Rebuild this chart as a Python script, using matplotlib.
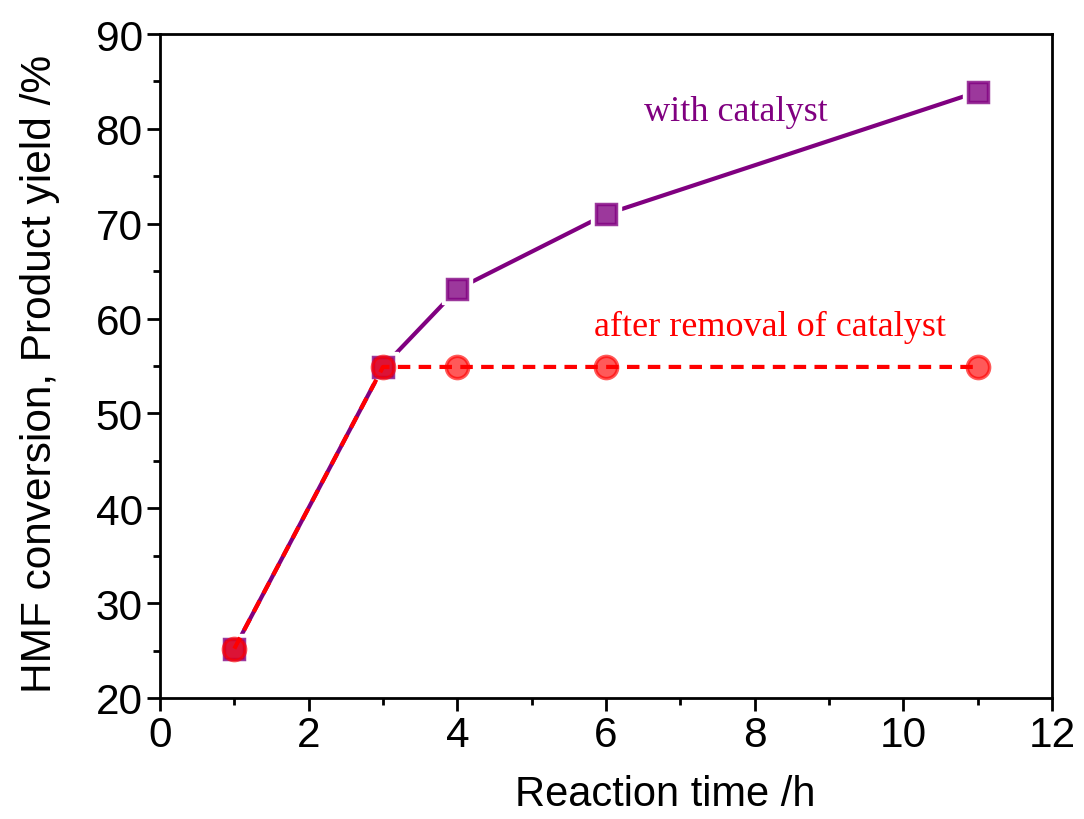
import numpy as np
import matplotlib
matplotlib.use('Agg')
from matplotlib import pyplot as plt
from matplotlib.ticker import MultipleLocator

# data
time_cat = [1, 3, 4, 6, 11]
yield_cat = [25.2, 54.9, 63.1, 71.0, 83.9]
time_rem = [1, 3, 4, 6, 11]
yield_rem = [25.2, 54.9, 54.9, 54.9, 54.9]

purple = '#800080'
red = '#ff0000'

plt.rcParams['font.family'] = ['Liberation Sans', 'DejaVu Sans']

fig = plt.figure(figsize=(10.84, 8.2), dpi=100)
ax = fig.add_axes([0.1476, 0.1476, 0.8229, 0.8097])

# with catalyst
ax.plot(time_cat, yield_cat, '-', color=purple, lw=3, zorder=2)
ax.plot(time_cat, yield_cat, 's', ms=21, mfc='white', mec='white', zorder=3)
ax.plot(time_cat, yield_cat, 's', ms=15, mfc=purple, mec=purple, mew=2.5,
        alpha=0.78, zorder=4)

# after removal of catalyst
ax.plot(time_rem, yield_rem, '--', color=red, lw=3, dashes=(3, 2), zorder=5)
ax.plot(time_rem[2:], yield_rem[2:], 'o', ms=21, mfc='white', mec='white', zorder=3)
ax.plot(time_rem, yield_rem, 'o', ms=16, mfc=red, mec=red, mew=2.5,
        alpha=0.65, zorder=6)

ax.text(7.75, 81.8, 'with catalyst', color=purple, fontsize=26,
        family=['Liberation Serif'], ha='center', va='center')
ax.text(8.2, 59.2, 'after removal of catalyst', color=red, fontsize=26,
        family=['Liberation Serif'], ha='center', va='center')

ax.set_xlim(0, 12)
ax.set_ylim(20, 90)
ax.xaxis.set_major_locator(MultipleLocator(2))
ax.xaxis.set_minor_locator(MultipleLocator(1))
ax.yaxis.set_major_locator(MultipleLocator(10))
ax.yaxis.set_minor_locator(MultipleLocator(5))
ax.tick_params(which='major', direction='out', length=9.5, width=2, labelsize=30.5, pad=3)
ax.tick_params(which='minor', direction='out', length=5, width=2)
for s in ax.spines.values():
    s.set_linewidth(2)

ax.set_xlabel('Reaction time /h', fontsize=30)
ax.set_ylabel('HMF conversion, Product yield /%', fontsize=30.5)
ax.xaxis.set_label_coords(0.566, -0.115)
ax.yaxis.set_label_coords(-0.112, 0.49)

fig.savefig('out.png', dpi=100)
